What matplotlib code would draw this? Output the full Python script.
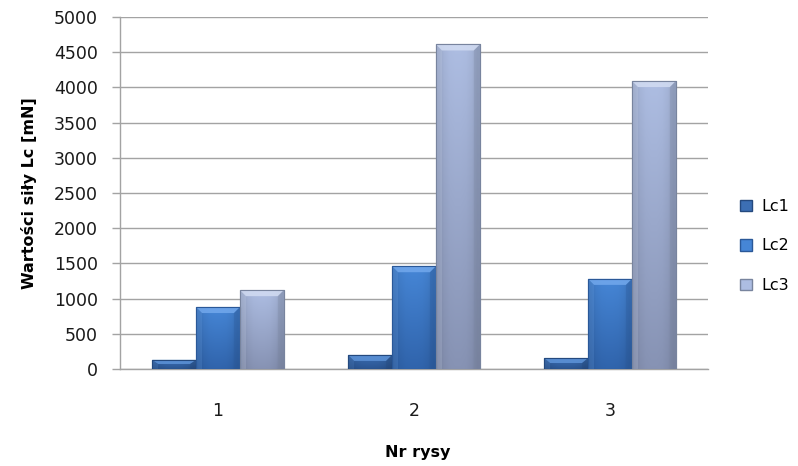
import numpy as np
import matplotlib
matplotlib.use("Agg")
import matplotlib.pyplot as plt
from matplotlib.patches import Polygon, Patch
from matplotlib.colors import to_rgb

# Critical load values per scratch
scratches = ["1", "2", "3"]
lc1 = [130, 200, 155]
lc2 = [880, 1460, 1280]
lc3 = [1120, 4610, 4090]
series_names = ["Lc1", "Lc2", "Lc3"]
y_ticks = [0, 500, 1000, 1500, 2000, 2500, 3000, 3500, 4000, 4500, 5000]

# (top colour, bottom colour, bevel colour, edge colour)
palette = [
    ("#3c6fb4", "#2a5592", "#5d93d8", "#24497e"),
    ("#4686d6", "#3064ac", "#72a8ec", "#2a5898"),
    ("#adbde2", "#8793b4", "#d2dcf2", "#78849e"),
]

plt.rcParams["font.family"] = ["DejaVu Sans"]
fig = plt.figure(figsize=(7.98, 4.66), dpi=100)
ax = fig.add_axes([120 / 798, 1 - 369 / 466, 588 / 798, 352 / 466])

x = np.arange(len(scratches))
width = 0.224
offsets = [-width, 0.0, width]
all_values = [lc1, lc2, lc3]

ax.set_xlim(-0.5, len(scratches) - 0.5)
ax.set_ylim(0, 5000)

# pixel-to-data scale for the bevel decorations
ax_h_px = ax.get_position().height * fig.get_figheight() * fig.dpi
ax_w_px = ax.get_position().width * fig.get_figwidth() * fig.dpi
dy_per_px = 5000 / ax_h_px
dx_per_px = (len(scratches)) / ax_w_px

handles = []
for vals, off, (ctop, cbot, cbev, cedge), name in zip(all_values, offsets, palette, series_names):
    bars = ax.bar(x + off, vals, width=width, color=cbot, edgecolor=cedge,
                  linewidth=0.8, zorder=3, align="center")
    for b in bars:
        x0, y0 = b.get_x(), b.get_y()
        w, h = b.get_width(), b.get_height()
        top = y0 + h
        # vertical gradient fill
        grad = np.linspace(0, 1, 64)[:, None]
        c1 = np.array(to_rgb(ctop))
        c2 = np.array(to_rgb(cbot))
        img = c2[None, None, :] * (1 - grad[..., None]) + c1[None, None, :] * grad[..., None]
        img = np.repeat(img, 8, axis=1)
        side = 1 - 0.12 * np.abs(np.linspace(-1, 1, 8)) ** 3
        img = img * side[None, :, None]
        im = ax.imshow(img, extent=[x0, x0 + w, y0, top], origin="lower",
                       aspect="auto", zorder=3.5, interpolation="bilinear")
        im.set_clip_path(b)
        # bevelled top edge
        bh = min(6 * dy_per_px, h * 0.45)
        bw = 6 * dx_per_px
        bevel = Polygon([[x0, top], [x0 + w, top], [x0 + w - bw, top - bh], [x0 + bw, top - bh]],
                        closed=True, facecolor=cbev, edgecolor="none", zorder=4, alpha=0.85)
        ax.add_patch(bevel)
        # side shading
        left = Polygon([[x0, top], [x0 + bw, top - bh], [x0 + bw, y0], [x0, y0]],
                       closed=True, facecolor=cbev, edgecolor="none", zorder=4, alpha=0.2)
        right = Polygon([[x0 + w, top], [x0 + w - bw, top - bh], [x0 + w - bw, y0], [x0 + w, y0]],
                        closed=True, facecolor=cedge, edgecolor="none", zorder=4, alpha=0.3)
        ax.add_patch(left)
        ax.add_patch(right)
        edge = Polygon([[x0, y0], [x0, top], [x0 + w, top], [x0 + w, y0]],
                       closed=True, facecolor="none", edgecolor=cedge, linewidth=0.8, zorder=4.5)
        ax.add_patch(edge)
    handles.append(Patch(facecolor=ctop, edgecolor=cedge, label=name))

# axes styling
grid_c = "#a3a3a3"
ax.set_yticks(y_ticks)
ax.yaxis.grid(True, color=grid_c, linewidth=1.0, zorder=0)
ax.set_axisbelow(True)
for s in ["top", "right"]:
    ax.spines[s].set_visible(False)
ax.spines["left"].set_color(grid_c)
ax.spines["left"].set_linewidth(1.0)
ax.spines["bottom"].set_color(grid_c)
ax.spines["bottom"].set_linewidth(1.0)
ax.tick_params(axis="y", direction="out", length=6, width=1.0, color=grid_c,
               labelsize=12.5, labelcolor="#1a1a1a", pad=10)
ax.tick_params(axis="x", length=0, labelsize=12.5, labelcolor="#1a1a1a", pad=24)
ax.set_xticks(x)
ax.set_xticklabels(scratches)

ax.set_ylabel("Wartości siły Lc [mN]", fontsize=11.5, fontweight="bold", labelpad=12)
fig.text(418 / 798, 1 - 452 / 466, "Nr rysy", fontsize=11.5, fontweight="bold",
         ha="center", va="center")

fig.legend(handles=handles, loc="center left", bbox_to_anchor=(734 / 798, 1 - 246 / 466),
           frameon=False, fontsize=11.5, handlelength=0.7, handleheight=0.7,
           handletextpad=0.6, labelspacing=1.55, borderaxespad=0)

fig.savefig("out.png", dpi=100)
